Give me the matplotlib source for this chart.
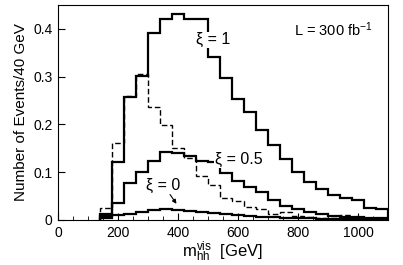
import numpy as np
import matplotlib
matplotlib.use("Agg")
import matplotlib.pyplot as plt

plt.rcParams["font.family"] = ["Liberation Sans", "DejaVu Sans"]
plt.rcParams["mathtext.default"] = "regular"

# bin edges in GeV (40 GeV bins)
edges = np.arange(140, 1101, 40)

# xi = 1
xi1 = [0.013, 0.121, 0.258, 0.302, 0.392, 0.421, 0.431, 0.421, 0.421, 0.341,
       0.297, 0.253, 0.226, 0.188, 0.157, 0.128, 0.100, 0.080, 0.065, 0.052,
       0.047, 0.042, 0.025, 0.022]
# xi = 0.5
xi05 = [0.008, 0.036, 0.078, 0.101, 0.124, 0.143, 0.140, 0.133, 0.124, 0.122,
        0.098, 0.082, 0.068, 0.058, 0.042, 0.030, 0.022, 0.016, 0.012, 0.009,
        0.007, 0.006, 0.005, 0.004]
# xi = 0
xi0 = [0.004, 0.010, 0.013, 0.017, 0.020, 0.023, 0.021, 0.019, 0.016, 0.014,
       0.012, 0.010, 0.008, 0.007, 0.006, 0.005, 0.004, 0.004, 0.003, 0.003,
       0.003, 0.002, 0.002, 0.002]
# dashed histogram
dashed = [0.025, 0.161, 0.260, 0.306, 0.237, 0.199, 0.150, 0.130, 0.091, 0.074,
          0.045, 0.040, 0.028, 0.022, 0.012, 0.016, 0.008, 0.006, 0.005, 0.005,
          0.010, 0.004, 0.003, 0.003]

fig = plt.figure(figsize=(4.03, 2.65), dpi=100)
ax = fig.add_axes([0.144, 0.170, 0.819, 0.811])

ax.stairs(dashed, edges, baseline=0, color="black", lw=1.0, ls=(0, (4, 2)))
ax.stairs(xi0, edges, baseline=0, color="black", lw=1.6)
ax.stairs(xi05, edges, baseline=0, color="black", lw=1.6)
ax.stairs(xi1, edges, baseline=0, color="black", lw=1.6)

ax.set_xlim(0, 1100)
ax.set_ylim(0, 0.45)
ax.set_xticks([0, 200, 400, 600, 800, 1000])
ax.set_xticks(np.arange(0, 1101, 50), minor=True)
ax.set_yticks([0, 0.1, 0.2, 0.3, 0.4])
ax.set_yticklabels(["0", "0.1", "0.2", "0.3", "0.4"])
ax.tick_params(which="both", direction="in", top=False, right=False, labelsize=10)
ax.tick_params(which="major", length=5, pad=4)
ax.tick_params(which="minor", length=3)

ax.set_ylabel("Number of Events/40 GeV", fontsize=11)
ax.set_xlabel(r"$m_{hh}^{vis}$  [GeV]", fontsize=12, labelpad=0)

box = dict(facecolor="white", edgecolor="none", pad=0.5)
ax.text(517, 0.377, "ξ = 1", fontsize=11.5, ha="center", va="center", bbox=box)
ax.text(602, 0.126, "ξ = 0.5", fontsize=11.5, ha="center", va="center", bbox=box)
ax.text(350, 0.073, "ξ = 0", fontsize=11.5, ha="center", va="center")
ax.annotate("", xy=(400, 0.029), xytext=(368, 0.058),
            arrowprops=dict(arrowstyle="-|>", color="black", lw=0.8,
                            mutation_scale=6))
ax.text(787, 0.398, r"L = 300 fb$^{-1}$", fontsize=10.5, ha="left", va="center")

fig.savefig("out.png", dpi=100)
